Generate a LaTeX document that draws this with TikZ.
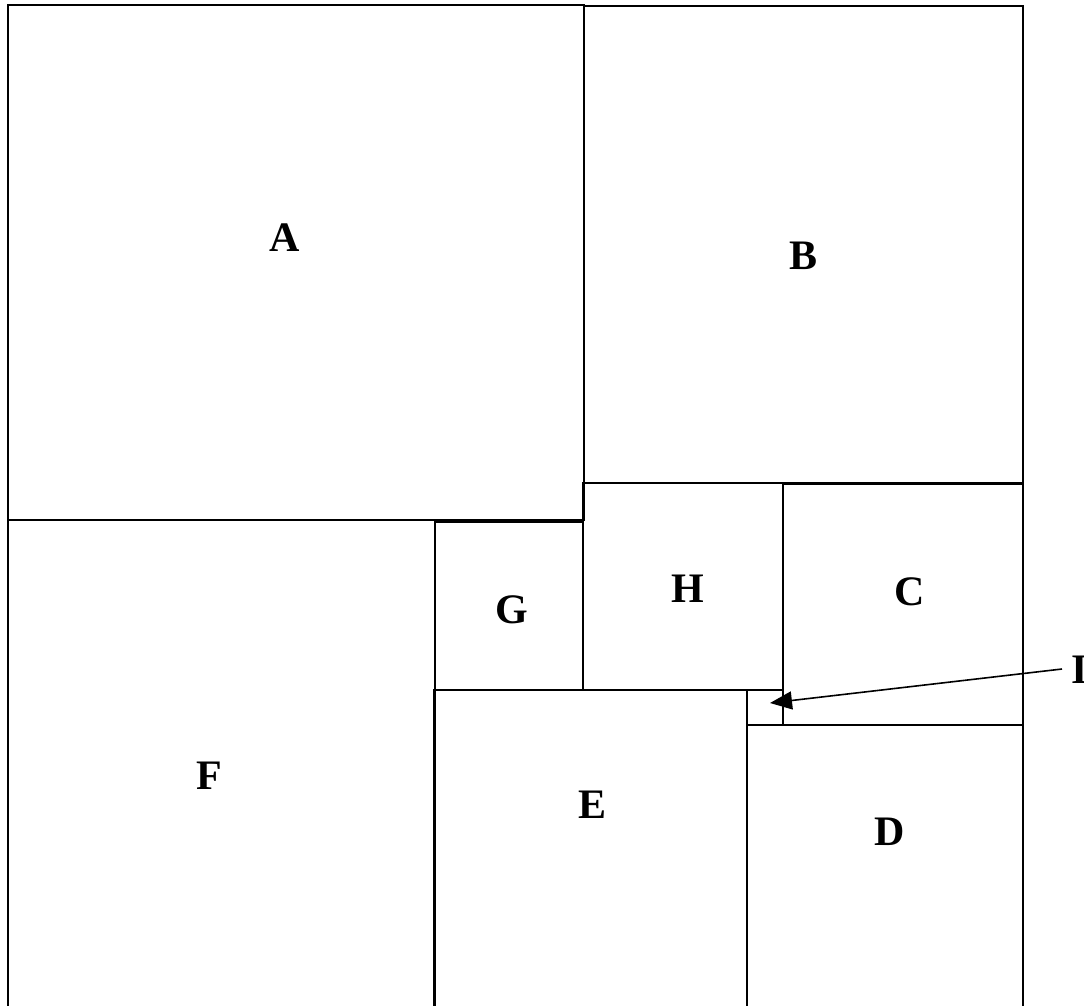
\documentclass[tikz,border=0pt]{standalone}
\usepackage{fontspec}
\setmainfont{Liberation Serif}
\usetikzlibrary{arrows.meta}
\begin{document}
\begin{tikzpicture}[x=1pt,y=-1pt,
  box/.style={draw=black,line width=1.6pt},
  lab/.style={font=\fontsize{42}{48}\selectfont\bfseries,inner sep=0pt},
  pointer/.style={draw=black,line width=1.6pt,-{Triangle[length=22pt,width=18pt]}}]
\useasboundingbox (0,0) rectangle (1084,1005);
\clip (0,0) rectangle (1084,1005);
\fill[white] (0,0) rectangle (1084,1005);
\draw[box] (8,5) rectangle (584,520);
\draw[box] (584,6) rectangle (1023,483);
\draw[box] (8,520) rectangle (435,1012);
\draw[box] (435,522) rectangle (583,690);
\draw[box] (583,483) rectangle (783,690);
\draw[box] (783,484) rectangle (1023,725);
\draw[box] (747,690) rectangle (783,725);
\draw[box] (434,690) rectangle (747,1012);
\draw[box] (747,725) rectangle (1023,1012);
\node[lab] (A) at (285,238) {A};
\node[lab] (B) at (803,256) {B};
\node[lab] (C) at (910,592) {C};
\node[lab] (D) at (890,832) {D};
\node[lab] (E) at (592,805) {E};
\node[lab] (F) at (209,776) {F};
\node[lab] (G) at (512,610) {G};
\node[lab] (H) at (688,589) {H};
\node[lab,anchor=west] (I) at (1071,670) {I};
\coordinate (Itip) at (770,703);
\draw[pointer] (1062,669) -- (Itip);
\end{tikzpicture}
\end{document}
